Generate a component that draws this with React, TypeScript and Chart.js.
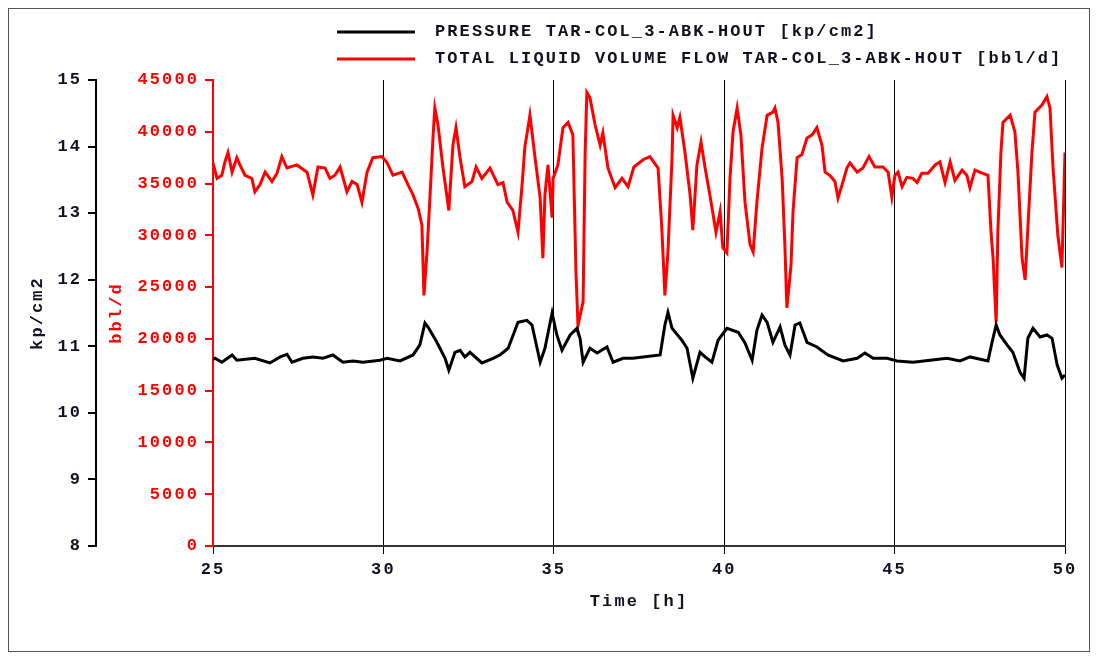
import React, { useEffect, useRef } from "react";
import { Chart, registerables } from "chart.js";

Chart.register(...registerables);

// ---- data ----
const legendLabels = [
  "PRESSURE TAR-COL_3-ABK-HOUT [kp/cm2]",
  "TOTAL LIQUID VOLUME FLOW TAR-COL_3-ABK-HOUT [bbl/d]",
];
const xTitle = "Time [h]";
const pressureTitle = "kp/cm2";
const flowTitle = "bbl/d";

const timeRange = [25, 50];
const timeStep = 5;
const pressureRange = [8, 15];
const pressureStep = 1;
const flowRange = [0, 45000];
const flowStep = 5000;

const pressureTime = [
  25.0, 25.06, 25.26, 25.56, 25.7, 26.23, 26.67, 26.97, 27.17, 27.32,
  27.64, 27.93, 28.23, 28.52, 28.81, 29.11, 29.4, 29.9, 30.11, 30.49,
  30.87, 31.07, 31.22, 31.31, 31.57, 31.81, 31.92, 32.1, 32.25, 32.39,
  32.54, 32.89, 33.22, 33.42, 33.66, 33.95, 34.21, 34.36, 34.6, 34.74,
  34.95, 35.09, 35.24, 35.48, 35.68, 35.77, 35.86, 36.06, 36.27, 36.56,
  36.74, 37.03, 37.32, 37.62, 38.12, 38.26, 38.35, 38.47, 38.76, 38.91,
  39.08, 39.29, 39.44, 39.64, 39.82, 40.08, 40.41, 40.61, 40.82, 40.96,
  41.11, 41.26, 41.43, 41.64, 41.78, 41.93, 42.08, 42.22, 42.43, 42.72,
  43.04, 43.49, 43.9, 44.13, 44.37, 44.78, 45.07, 45.54, 46.04, 46.54,
  46.92, 47.21, 47.74, 47.86, 47.98, 48.09, 48.3, 48.47, 48.68, 48.8,
  48.91, 49.06, 49.27, 49.47, 49.62, 49.77, 49.91, 50.0,
];
const pressureValues = [
  10.8, 10.82, 10.76, 10.87, 10.79, 10.82, 10.75, 10.84, 10.88, 10.76,
  10.82, 10.84, 10.82, 10.87, 10.76, 10.78, 10.76, 10.79, 10.82, 10.78,
  10.87, 11.02, 11.35, 11.29, 11.06, 10.82, 10.64, 10.91, 10.94, 10.84,
  10.91, 10.75, 10.82, 10.87, 10.97, 11.36, 11.39, 11.32, 10.76, 10.97,
  11.5, 11.17, 10.94, 11.17, 11.27, 11.12, 10.76, 10.97, 10.9, 10.99,
  10.76, 10.82, 10.82, 10.84, 10.87, 11.32, 11.51, 11.27, 11.09, 10.97,
  10.52, 10.91, 10.84, 10.76, 11.09, 11.27, 11.21, 11.05, 10.79, 11.24,
  11.47, 11.36, 11.06, 11.29, 11.02, 10.87, 11.32, 11.35, 11.06, 10.99,
  10.87, 10.78, 10.82, 10.9, 10.82, 10.82, 10.78, 10.76, 10.79, 10.82,
  10.78, 10.84, 10.78, 11.06, 11.32, 11.17, 11.02, 10.91, 10.61, 10.52,
  11.12, 11.27, 11.14, 11.17, 11.12, 10.72, 10.52, 10.57,
];

const flowTime = [
  25.0, 25.03, 25.12, 25.26, 25.35, 25.44, 25.56, 25.7, 25.79, 25.94,
  26.14, 26.23, 26.38, 26.53, 26.73, 26.88, 27.02, 27.17, 27.46, 27.76,
  27.93, 28.08, 28.29, 28.43, 28.58, 28.73, 28.93, 29.08, 29.23, 29.37,
  29.52, 29.69, 29.96, 30.11, 30.28, 30.55, 30.72, 30.87, 31.02, 31.13,
  31.19, 31.28, 31.37, 31.46, 31.51, 31.6, 31.75, 31.92, 32.04, 32.13,
  32.25, 32.39, 32.6, 32.72, 32.89, 33.13, 33.36, 33.51, 33.63, 33.8,
  33.95, 34.07, 34.15, 34.3, 34.45, 34.6, 34.68, 34.74, 34.83, 34.95,
  34.98, 35.12, 35.27, 35.42, 35.56, 35.65, 35.71, 35.86, 35.92, 35.97,
  36.06, 36.21, 36.36, 36.44, 36.59, 36.8, 37.0, 37.18, 37.35, 37.62,
  37.82, 38.06, 38.17, 38.26, 38.35, 38.47, 38.5, 38.62, 38.7, 38.85,
  39.0, 39.08, 39.2, 39.32, 39.44, 39.58, 39.76, 39.88, 39.96, 40.08,
  40.17, 40.26, 40.38, 40.49, 40.61, 40.76, 40.85, 40.96, 41.11, 41.26,
  41.43, 41.49, 41.58, 41.7, 41.78, 41.84, 41.96, 42.02, 42.14, 42.28,
  42.43, 42.58, 42.72, 42.87, 42.96, 43.1, 43.25, 43.34, 43.46, 43.6,
  43.69, 43.9, 44.07, 44.25, 44.42, 44.66, 44.81, 44.92, 45.01, 45.1,
  45.22, 45.36, 45.54, 45.66, 45.8, 45.98, 46.19, 46.33, 46.48, 46.63,
  46.77, 46.98, 47.12, 47.21, 47.36, 47.57, 47.74, 47.83, 47.89, 47.98,
  48.03, 48.12, 48.18, 48.39, 48.53, 48.62, 48.74, 48.83, 48.91, 49.03,
  49.12, 49.33, 49.47, 49.56, 49.65, 49.79, 49.91, 50.0,
];
const flowValues = [
  36300, 36600, 35500, 35800, 37100, 38000, 36100, 37500, 36800, 35800,
  35500, 34200, 34900, 36100, 35200, 36000, 37600, 36500, 36800, 36100,
  33900, 36600, 36500, 35500, 35800, 36600, 34200, 35200, 34900, 33200,
  36100, 37500, 37600, 37000, 35800, 36100, 34900, 33900, 32600, 31000,
  24200, 28400, 33900, 39700, 42300, 40700, 36500, 32400, 38700, 40400,
  37500, 34700, 35200, 36600, 35500, 36500, 34900, 35100, 33200, 32400,
  30300, 34900, 38500, 41600, 37500, 33600, 27800, 33900, 36800, 31700,
  35500, 36800, 40400, 40900, 39700, 26500, 21300, 23600, 38000, 43800,
  43300, 40700, 38700, 39900, 36500, 34600, 35500, 34700, 36600, 37300,
  37600, 36500, 30700, 24200, 28400, 37500, 41600, 40400, 41400, 38000,
  33900, 30500, 36800, 39000, 36500, 33900, 30300, 32300, 28800, 28300,
  35500, 40000, 42300, 39700, 33200, 29100, 28400, 33200, 38400, 41600,
  41900, 42300, 40900, 35500, 29100, 23000, 27100, 32300, 37500, 37800,
  39400, 39700, 40400, 38700, 36100, 35800, 35200, 33600, 34900, 36500,
  37000, 36100, 36500, 37600, 36600, 36600, 36100, 33700, 35800, 36100,
  34700, 35600, 35500, 35100, 36000, 36000, 36800, 37100, 35100, 37100,
  35300, 36300, 35800, 34600, 36300, 36000, 35800, 30300, 27800, 21600,
  30300, 38000, 40900, 41600, 40000, 36100, 27800, 25700, 30700, 38000,
  41900, 42600, 43400, 42300, 36500, 30000, 26900, 38000,
];

// ---- styles ----
const FONT_FAMILY = '"Liberation Mono", "Courier New", monospace';
const FONT_SIZE = 17;
const LETTER_SPACING = "2.1px";
const BLACK = "#000000";
const RED = "#ff0000";
const TEXT_DARK = "#111122";

const CANVAS_W = 1080;
const CANVAS_H = 642;

const spacingPlugin = {
  id: "letterSpacing",
  beforeUpdate(chart: any) {
    chart.ctx.letterSpacing = LETTER_SPACING;
  },
  beforeLayout(chart: any) {
    chart.ctx.letterSpacing = LETTER_SPACING;
  },
  beforeDraw(chart: any) {
    chart.ctx.letterSpacing = LETTER_SPACING;
  },
};

const legendPlugin = {
  id: "customLegend",
  afterDraw(chart: any) {
    const ctx = chart.ctx;
    const colors = [BLACK, RED];
    ctx.save();
    ctx.letterSpacing = LETTER_SPACING;
    ctx.font = `bold ${FONT_SIZE}px ${FONT_FAMILY}`;
    ctx.textBaseline = "middle";
    ctx.textAlign = "left";
    legendLabels.forEach((label, i) => {
      const y = 23 + i * 27;
      ctx.strokeStyle = colors[i];
      ctx.lineWidth = 3;
      ctx.beginPath();
      ctx.moveTo(328, y);
      ctx.lineTo(406, y);
      ctx.stroke();
      ctx.fillStyle = TEXT_DARK;
      ctx.fillText(label, 426, y);
    });
    ctx.restore();
  },
};

export default function App() {
  const ref = useRef<HTMLCanvasElement | null>(null);

  useEffect(() => {
    if (!ref.current) return;
    const font = { family: FONT_FAMILY, size: FONT_SIZE, weight: "bold" as const };
    const chart = new Chart(ref.current, {
      type: "line",
      data: {
        datasets: [
          {
            label: legendLabels[0],
            data: pressureTime.map((t, i) => ({ x: t, y: pressureValues[i] })),
            borderColor: BLACK,
            borderWidth: 3,
            pointRadius: 0,
            tension: 0,
            yAxisID: "yP",
          },
          {
            label: legendLabels[1],
            data: flowTime.map((t, i) => ({ x: t, y: flowValues[i] })),
            borderColor: RED,
            borderWidth: 3,
            pointRadius: 0,
            tension: 0,
            yAxisID: "yF",
          },
        ],
      },
      options: {
        responsive: false,
        animation: false,
        events: [],
        layout: { padding: { left: 8, right: 24, top: 71, bottom: 39 } },
        plugins: {
          legend: { display: false },
          tooltip: { enabled: false },
          title: { display: false },
        },
        scales: {
          x: {
            type: "linear",
            min: timeRange[0],
            max: timeRange[1],
            ticks: {
              stepSize: timeStep,
              color: TEXT_DARK,
              font,
              padding: 6,
              maxRotation: 0,
              callback: (v: any) => String(v),
            },
            grid: {
              color: BLACK,
              lineWidth: 1,
              tickLength: 8,
              drawTicks: true,
            },
            border: { display: true, color: "#333333", width: 2 },
            title: {
              display: true,
              text: xTitle,
              color: TEXT_DARK,
              font,
              padding: { top: 0, bottom: 0 },
            },
            afterFit: (s: any) => {
              s.height = 66;
            },
          },
          yP: {
            type: "linear",
            position: "left",
            weight: 1,
            min: pressureRange[0],
            max: pressureRange[1],
            ticks: {
              stepSize: pressureStep,
              color: TEXT_DARK,
              font,
              padding: 6,
              callback: (v: any) => String(v),
            },
            grid: {
              drawOnChartArea: false,
              color: BLACK,
              lineWidth: 2,
              tickLength: 8,
            },
            border: { display: true, color: BLACK, width: 2 },
            title: {
              display: true,
              text: pressureTitle,
              color: TEXT_DARK,
              font,
              padding: { top: 11, bottom: 0 },
            },
            afterFit: (s: any) => {
              s.width = 79;
            },
          },
          yF: {
            type: "linear",
            position: "left",
            weight: 0,
            min: flowRange[0],
            max: flowRange[1],
            ticks: {
              stepSize: flowStep,
              color: RED,
              font,
              padding: 6,
              callback: (v: any) => String(v),
            },
            grid: {
              drawOnChartArea: false,
              color: RED,
              lineWidth: 2,
              tickLength: 8,
            },
            border: { display: true, color: RED, width: 2 },
            title: {
              display: true,
              text: flowTitle,
              color: RED,
              font,
              padding: { top: 11, bottom: 0 },
            },
            afterFit: (s: any) => {
              s.width = 117;
            },
          },
        },
      },
      plugins: [spacingPlugin, legendPlugin],
    });
    return () => chart.destroy();
  }, []);

  return (
    <div
      style={{
        width: CANVAS_W,
        height: CANVAS_H,
        border: "1px solid #555555",
        background: "#ffffff",
      }}
    >
      <canvas
        ref={ref}
        width={CANVAS_W}
        height={CANVAS_H}
        style={{ display: "block", width: CANVAS_W, height: CANVAS_H }}
      />
    </div>
  );
}
